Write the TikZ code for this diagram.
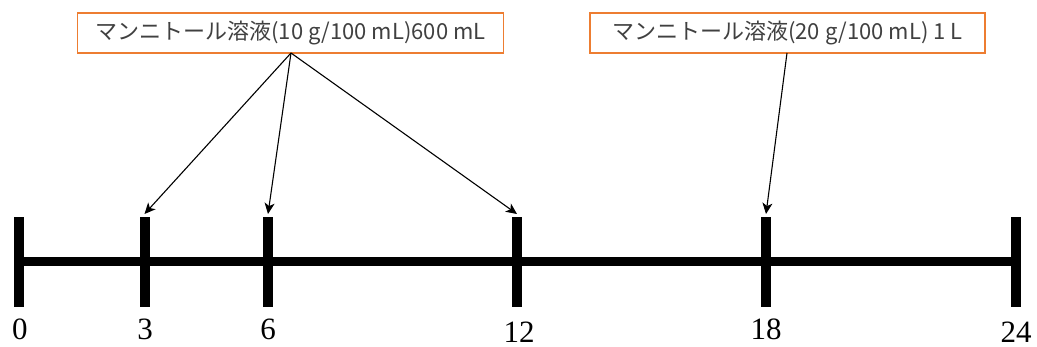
\documentclass[tikz,border=0pt]{standalone}
\usepackage{fontspec}
\setmainfont{Liberation Serif}
\newfontfamily\jpfont{Noto Sans CJK JP}
\usetikzlibrary{arrows.meta}
\definecolor{boxorange}{HTML}{ED7D31}
\definecolor{txtgray}{HTML}{404040}
\tikzset{
  notebox/.style={draw=boxorange, line width=1.5pt, fill=white, text=txtgray, inner sep=0pt, font=\jpfont\fontsize{22}{24}\selectfont},
  tickbar/.style={fill=black, draw=none},
  ticklabel/.style={font=\fontsize{31}{33}\selectfont, inner sep=0pt},
  pointer/.style={draw=black, line width=1.1pt, -{Stealth[length=11pt,width=10pt,inset=3pt]}},
}
\begin{document}
\begin{tikzpicture}[x=1pt,y=-1pt]
\useasboundingbox (0,0) rectangle (1037,347);
% axis line
\fill (19,257.5) rectangle (1016,266.5);
% ticks
\foreach \nm/\x in {t0/19, t3/144.5, t6/268, t12/517, t18/766, t24/1016}{
  \fill (\x-5,217) rectangle (\x+5,307);
  \coordinate (\nm) at (\x,214);
}
% tick labels
\node[ticklabel] (l0) at (20,329) {0};
\node[ticklabel] (l3) at (145,329) {3};
\node[ticklabel] (l6) at (268,329) {6};
\node[ticklabel] (l12) at (519,332) {12};
\node[ticklabel] (l18) at (766,329) {18};
\node[ticklabel] (l24) at (1016,332) {24};
% boxes
\node[notebox, minimum width=426pt, minimum height=40pt] (b1) at (290.5,33) {マンニトール溶液(10 g/100 mL)600 mL};
\node[notebox, minimum width=395pt, minimum height=40pt] (b2) at (787.5,33) {マンニトール溶液(20 g/100 mL) 1 L};
\coordinate (s1) at (291,53);
\coordinate (s2) at (787,53);
% arrows
\draw[pointer] (s1) -- (t3);
\draw[pointer] (s1) -- (t6);
\draw[pointer] (s1) -- (t12);
\draw[pointer] (s2) -- (t18);
\end{tikzpicture}
\end{document}
